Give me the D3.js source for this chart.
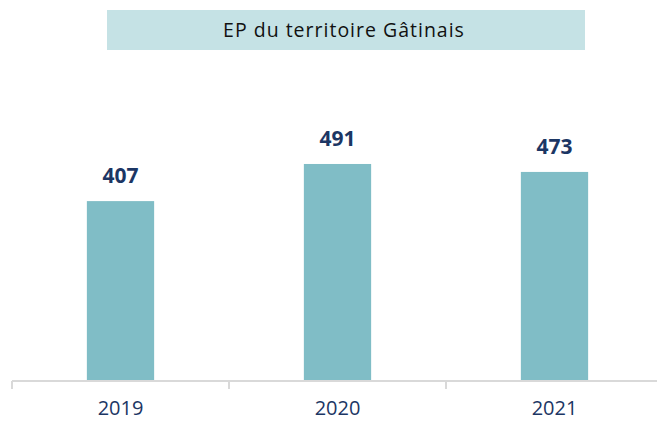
<!DOCTYPE html>
<html lang="fr">
<head>
  <meta charset="UTF-8" />
  <title>EP du territoire Gâtinais</title>
  <script src="https://d3js.org/d3.v7.min.js"></script>
  <style>
    html, body {
      margin: 0;
      padding: 0;
      background: #fff;
      font-family: 'Open Sans', sans-serif;
      overflow: hidden;
    }
    svg { display: block; }
  </style>
</head>
<body>
  <svg width="657" height="421"></svg>
  <script>
    const years = ["2019", "2020", "2021"];
    const values = [407, 491, 473];
    const chartTitle = "EP du territoire Gâtinais";

    const svg = d3.select("svg");
    const width = 657;
    const axisY = 381;

    // band step ~217px, first tick at x=12
    const x = d3.scaleBand()
      .domain(years)
      .range([12, 12 + 217 * years.length])
      .paddingInner(0.69)
      .paddingOuter(0.345);

    const y = d3.scaleLinear()
      .domain([0, 1000])
      .range([axisY, axisY - 442]);

    // title box
    svg.append("rect")
      .attr("x", 107)
      .attr("y", 10)
      .attr("width", 478)
      .attr("height", 40)
      .attr("fill", "#c5e2e5");

    svg.append("text")
      .attr("x", 344)
      .attr("y", 37)
      .attr("text-anchor", "middle")
      .style("font-size", "19.5px")
      .style("letter-spacing", "1px")
      .style("fill", "#111")
      .text(chartTitle);

    // bars
    svg.selectAll("rect.bar")
      .data(values)
      .enter()
      .append("rect")
      .attr("class", "bar")
      .attr("x", (d, i) => x(years[i]))
      .attr("y", d => y(d))
      .attr("width", x.bandwidth())
      .attr("height", d => y(0) - y(d))
      .attr("fill", "#80bdc6");

    svg.selectAll("text.val")
      .data(values)
      .enter()
      .append("text")
      .attr("class", "val")
      .attr("x", (d, i) => x(years[i]) + x.bandwidth() / 2)
      .attr("y", d => y(d) - 18)
      .attr("text-anchor", "middle")
      .style("font-size", "21px")
      .style("font-weight", "bold")
      .style("fill", "#1c3664")
      .text(d => d);

    // axis
    const step = x.step();
    svg.append("line")
      .attr("x1", 12).attr("x2", width)
      .attr("y1", axisY).attr("y2", axisY)
      .attr("stroke", "#d9d9d9")
      .attr("stroke-width", 2);

    svg.selectAll("line.tick")
      .data(years)
      .enter()
      .append("line")
      .attr("class", "tick")
      .attr("x1", d => x(d) - x.paddingOuter() * step)
      .attr("x2", d => x(d) - x.paddingOuter() * step)
      .attr("y1", axisY)
      .attr("y2", axisY + 8)
      .attr("stroke", "#d9d9d9")
      .attr("stroke-width", 2);

    svg.selectAll("text.year")
      .data(years)
      .enter()
      .append("text")
      .attr("class", "year")
      .attr("x", d => x(d) + x.bandwidth() / 2)
      .attr("y", 415)
      .attr("text-anchor", "middle")
      .style("font-size", "20px")
      .style("fill", "#1c3664")
      .text(d => d);
  </script>
</body>
</html>
